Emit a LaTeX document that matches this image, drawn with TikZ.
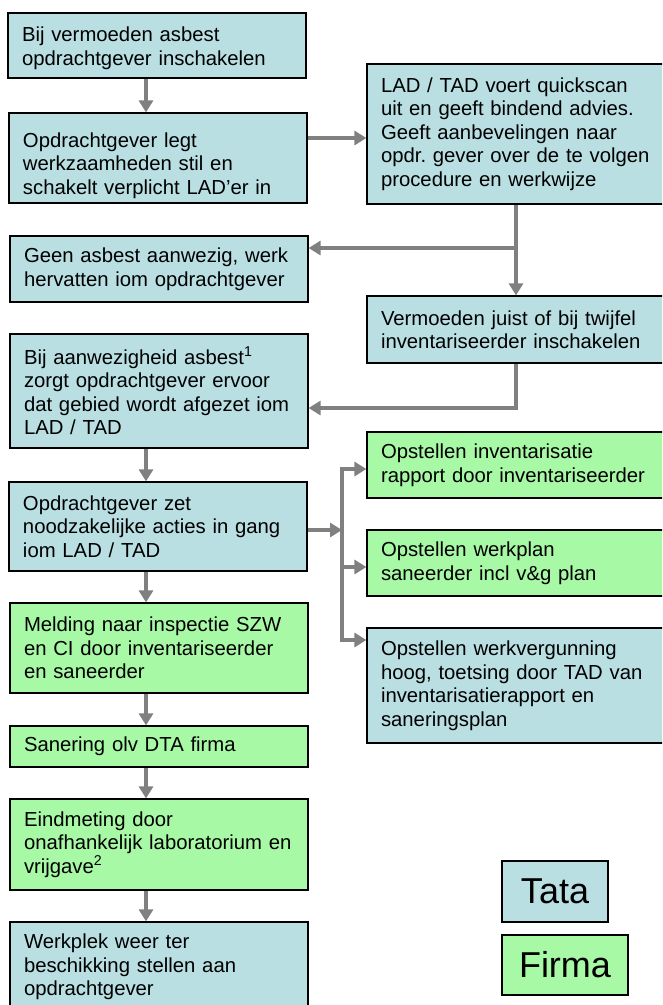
\documentclass[tikz,border=0pt]{standalone}
\usepackage{fontspec}
\setmainfont{Liberation Sans}
\usepackage{xcolor}
\usetikzlibrary{arrows.meta}
\definecolor{tatablauw}{RGB}{185,223,227}
\definecolor{firmagroen}{RGB}{168,249,165}
\definecolor{pijlgrijs}{RGB}{128,128,128}
\newcommand{\stapfont}{\fontsize{20.3}{23.5}\selectfont\frenchspacing}
\tikzstyle{tata} = [rectangle,draw,line width=1.2pt,fill=tatablauw,align=left,text width=270pt,inner xsep=14pt,inner ysep=0pt,font=\stapfont]
\tikzstyle{firma} = [tata,fill=firmagroen]
\tikzstyle{pijl} = [line width=4.5pt,draw=pijlgrijs,-{Triangle[length=12pt,width=14pt]}]
\tikzstyle{legenda} = [rectangle,draw,line width=1.2pt,inner sep=0pt,font=\fontsize{36}{40}\selectfont]

\begin{document}
\begin{tikzpicture}[x=1pt,y=-1pt]
      \useasboundingbox (0,0) rectangle (662,1005);
      \clip (0,0) rectangle (662,1005);
      % linker kolom
      \node (b1) [tata,minimum height=65pt,text height=20pt] at (157,45.5) {Bij vermoeden asbest\\opdrachtgever inschakelen};
      \node (b2) [tata,minimum height=90pt,text height=30pt] at (158,158) {Opdrachtgever legt\\werkzaamheden stil en\\schakelt verplicht LAD’er in};
      \node (b3) [tata,minimum height=66pt] at (159,269) {Geen asbest aanwezig, werk\\hervatten iom opdrachtgever};
      \node (b4) [tata,minimum height=114pt] at (159,391) {Bij aanwezigheid asbest\textsuperscript{1}\\zorgt opdrachtgever ervoor\\dat gebied wordt afgezet iom\\LAD / TAD};
      \node (b5) [tata,minimum height=89pt] at (158,526.5) {Opdrachtgever zet\\noodzakelijke acties in gang\\iom LAD / TAD};
      \node (b6) [firma,minimum height=90pt] at (159,648) {Melding naar inspectie SZW\\en CI door inventariseerder\\en saneerder};
      \node (b7) [firma,minimum height=41pt] at (159,746.5) {Sanering olv DTA firma};
      \node (b8) [firma,minimum height=91pt] at (159,844.5) {Eindmeting door\\onafhankelijk laboratorium en\\vrijgave\textsuperscript{2}};
      \node (b9) [tata,minimum height=90pt] at (159,967) {Werkplek weer ter\\beschikking stellen aan\\opdrachtgever};
      % rechter kolom
      \node (r1) [tata,minimum height=140pt] at (516,134) {LAD / TAD voert quickscan\\uit en geeft bindend advies.\\Geeft aanbevelingen naar\\opdr. gever over de te volgen\\procedure en werkwijze};
      \node (r2) [tata,minimum height=67pt] at (516,329.5) {Vermoeden juist of bij twijfel\\inventariseerder inschakelen};
      \node (r3) [firma,minimum height=66pt] at (516,465) {Opstellen inventarisatie\\rapport door inventariseerder};
      \node (r4) [firma,minimum height=66pt] at (516,563) {Opstellen werkplan\\saneerder incl v\&g plan};
      \node (r5) [tata,minimum height=115pt] at (516,685.5) {Opstellen werkvergunning\\hoog, toetsing door TAD van\\inventarisatierapport en\\saneringsplan};
      % legenda
      \node (lt) [legenda,fill=tatablauw,minimum width=106pt,minimum height=61pt] at (555,891.5) {Tata};
      \node (lf) [legenda,fill=firmagroen,minimum width=126pt,minimum height=60pt] at (565,965) {Firma};
      % pijlen
      \coordinate (as) at (146,0);
      \foreach \van/\naar in {b1/b2,b4/b5,b5/b6,b6/b7,b7/b8,b8/b9}
        \draw [pijl] (\van.south -| as) -- (\naar.north -| as);
      \draw [pijl] ([yshift=20pt]b2.east) -- ([yshift=20pt]b2.east -| r1.west);
      \draw [pijl] (r1.south) -- (r2.north);
      \draw [pijl] ([yshift=21pt]b3.east -| r1.south) -- ([yshift=21pt]b3.east);
      \draw [pijl] (r2.south) |- ([yshift=-17pt]b4.east);
      \coordinate (vork) at (342,530);
      \draw [pijl] (b5.east |- vork) -- (vork);
      \draw [line width=4.5pt,draw=pijlgrijs,line cap=rect] ([yshift=-4pt]r3.west -| vork) -- ([yshift=45.5pt]r5.west -| vork);
      \foreach \doel/\dy in {r3/-4,r4/-4,r5/45.5}
        \draw [pijl] ([yshift=\dy pt]\doel.west -| vork) -- ([yshift=\dy pt]\doel.west);
    \end{tikzpicture}
\end{document}
